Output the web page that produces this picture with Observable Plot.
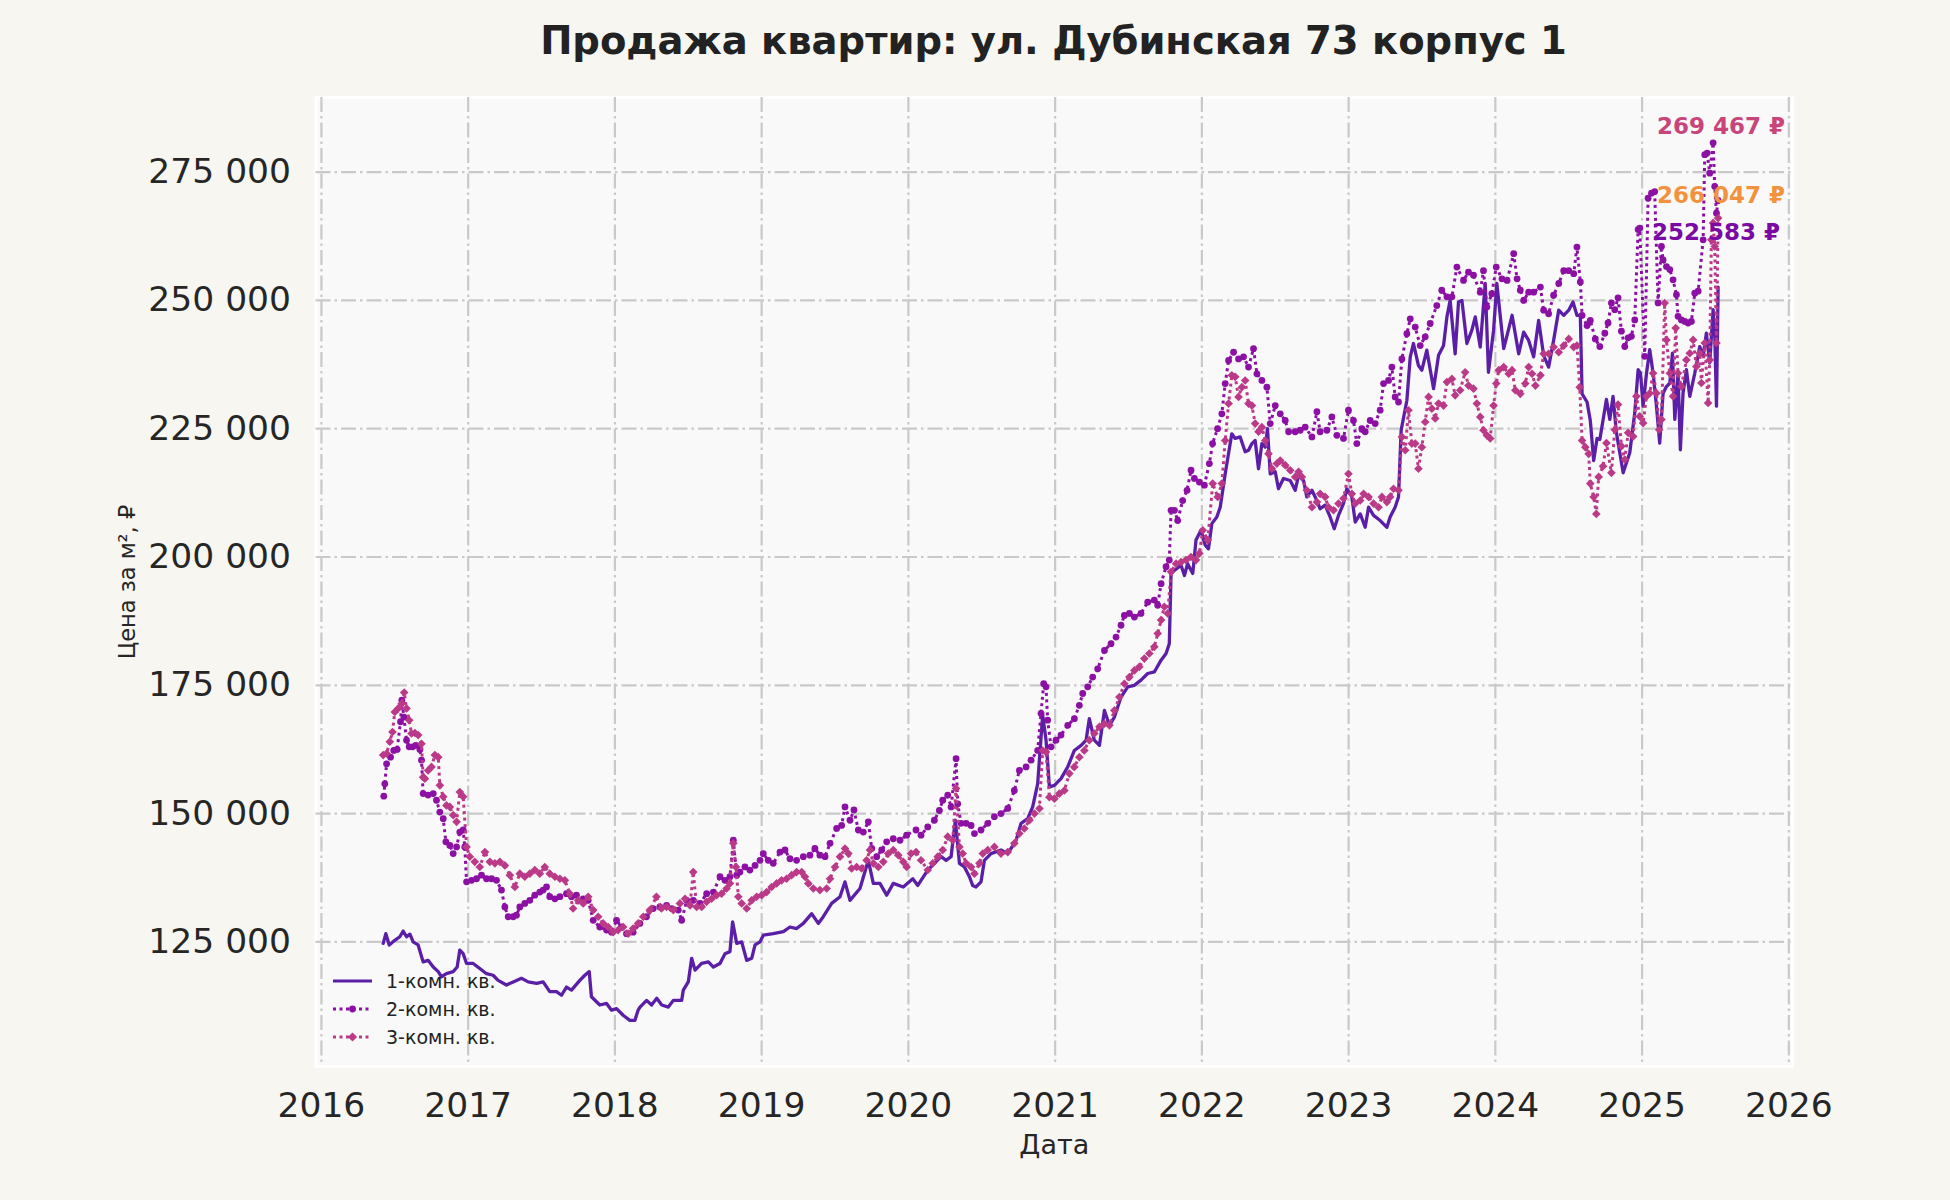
<!DOCTYPE html>
<html>
<head>
<meta charset="utf-8">
<script src="https://cdn.jsdelivr.net/npm/d3@7"></script>
<script src="https://cdn.jsdelivr.net/npm/@observablehq/plot@0.6"></script>
<style>
  html, body { margin: 0; padding: 0; background: #f7f6f1; }
  #wrap { position: relative; width: 1950px; height: 1200px; font-family: "DejaVu Sans", sans-serif; color: #222; }
  #head { position: relative; height: 82px; }
  #title { position: absolute; left: 315px; width: 1477px; top: 20px; text-align: center; font-weight: bold; font-size: 38.5px; line-height: 42px; color: #222; }
  #legend { position: absolute; left: 330px; top: 967px; font-size: 19px; color: #222; }
  .row { display: flex; align-items: center; height: 28px; }
  .row svg { width: 44px; height: 28px; margin-right: 12px; }
</style>
</head>
<body>
<div id="wrap">
  <div id="head"><div id="title">Продажа квартир: ул. Дубинская 73 корпус 1</div></div>
  <div id="chart"></div>
  <div id="legend"></div>
</div>
<script>
// ---- data (decimal year, price per m², ₽) ----
const seriesNames = ["1-комн. кв.", "2-комн. кв.", "3-комн. кв."];
const seriesColors = ["#5a1fa6", "#8c10a4", "#bb3a88"];
const xTicks = [2016, 2017, 2018, 2019, 2020, 2021, 2022, 2023, 2024, 2025, 2026];
const yTicks = [125000, 150000, 175000, 200000, 225000, 250000, 275000];

const years1 = [2016.421,2016.439,2016.462,2016.500,2016.534,2016.557,2016.580,2016.603,2016.625,2016.659,2016.693,2016.727,2016.762,2016.796,2016.818,2016.852,2016.898,2016.925,2016.943,2016.966,2016.989,2017.034,2017.079,2017.125,2017.170,2017.204,2017.261,2017.307,2017.363,2017.409,2017.466,2017.511,2017.556,2017.602,2017.636,2017.670,2017.704,2017.761,2017.795,2017.825,2017.840,2017.897,2017.943,2017.977,2018.011,2018.056,2018.102,2018.136,2018.158,2018.171,2018.216,2018.250,2018.285,2018.319,2018.364,2018.398,2018.455,2018.466,2018.500,2018.523,2018.546,2018.591,2018.637,2018.671,2018.716,2018.750,2018.784,2018.802,2018.830,2018.864,2018.898,2018.932,2018.955,2018.989,2019.011,2019.079,2019.148,2019.193,2019.238,2019.284,2019.341,2019.386,2019.420,2019.477,2019.534,2019.568,2019.602,2019.670,2019.727,2019.761,2019.806,2019.852,2019.897,2019.965,2020.030,2020.064,2020.132,2020.177,2020.223,2020.257,2020.291,2020.320,2020.348,2020.382,2020.416,2020.438,2020.461,2020.495,2020.518,2020.563,2020.631,2020.677,2020.734,2020.768,2020.813,2020.847,2020.881,2020.915,2020.938,2020.961,2020.995,2021.040,2021.086,2021.131,2021.177,2021.211,2021.233,2021.267,2021.302,2021.336,2021.370,2021.404,2021.449,2021.495,2021.540,2021.585,2021.631,2021.676,2021.722,2021.756,2021.778,2021.790,2021.813,2021.858,2021.881,2021.903,2021.938,2021.960,2021.994,2022.023,2022.045,2022.068,2022.102,2022.125,2022.159,2022.204,2022.227,2022.261,2022.295,2022.318,2022.341,2022.363,2022.386,2022.409,2022.432,2022.447,2022.466,2022.500,2022.522,2022.556,2022.602,2022.636,2022.659,2022.693,2022.715,2022.750,2022.772,2022.806,2022.840,2022.874,2022.902,2022.931,2022.965,2022.988,2023.022,2023.045,2023.079,2023.113,2023.136,2023.170,2023.215,2023.261,2023.283,2023.317,2023.340,2023.358,2023.397,2023.420,2023.442,2023.476,2023.499,2023.533,2023.579,2023.613,2023.647,2023.670,2023.692,2023.726,2023.749,2023.772,2023.806,2023.840,2023.863,2023.897,2023.931,2023.953,2023.988,2024.010,2024.057,2024.114,2024.159,2024.193,2024.227,2024.261,2024.295,2024.329,2024.363,2024.397,2024.432,2024.466,2024.500,2024.529,2024.556,2024.579,2024.591,2024.625,2024.647,2024.670,2024.693,2024.712,2024.757,2024.780,2024.802,2024.825,2024.871,2024.916,2024.950,2024.973,2024.989,2025.007,2025.030,2025.052,2025.075,2025.098,2025.120,2025.143,2025.166,2025.189,2025.207,2025.223,2025.245,2025.261,2025.279,2025.302,2025.325,2025.359,2025.393,2025.416,2025.438,2025.461,2025.484,2025.495,2025.507,2025.518];
const values1 = [124700,126600,124400,125300,126000,127100,126000,126500,125000,124400,121100,121400,120100,119200,118200,118800,119200,120100,123400,122700,120800,120800,119800,118800,118500,117500,116600,117200,117900,117200,116900,117200,115300,115300,114600,116200,115600,117500,118500,119200,114300,112700,113000,111700,112000,110700,109700,109700,111700,112300,113600,112700,114000,112700,112300,113600,113600,115600,117200,121800,119500,120800,121100,120100,120800,122700,123100,128900,124700,125000,121400,121800,124400,125000,126300,126600,127000,127900,127600,128600,130500,128600,129900,132500,133800,136700,133100,135400,140900,136400,136400,134100,136400,135700,137300,136000,139000,140300,141600,140900,141600,148700,140300,139600,137700,136000,135700,136700,140900,142200,142900,142200,144800,148100,149000,151300,155800,169200,164300,155200,155500,156800,159100,162300,163300,164300,168500,164300,163300,170100,167200,168800,172700,174700,175000,176000,177300,177600,179900,181200,183100,196800,197400,198400,196400,198700,196800,203300,205200,202300,201600,206500,207800,209700,216200,224000,223100,223400,220500,220800,222100,222700,217200,222100,221400,225000,216200,216600,213300,215300,214900,213000,215900,214900,211700,213000,211700,209400,210100,207800,205500,208100,210400,213300,211700,206800,208400,205800,209700,208100,207100,205800,207800,209700,211700,224700,230500,239000,241600,237300,236400,240300,232800,239300,241200,246800,250000,239600,249700,250000,241600,244200,246800,240900,253300,236000,244200,253300,240600,247100,239600,243800,242200,239000,246100,239300,237000,242200,248100,247100,248100,249700,247100,247100,231800,230200,226600,218800,223100,222900,230700,226800,231300,224200,216400,220300,228100,236500,235800,229400,235800,240400,235800,229400,222200,231900,233200,233900,239700,226800,235800,220900,231900,236500,231300,235800,241000,239100,243600,237800,248200,243600,229400,252583];

const years2 = [2016.425,2016.432,2016.444,2016.471,2016.493,2016.516,2016.539,2016.548,2016.562,2016.580,2016.598,2016.621,2016.643,2016.671,2016.682,2016.693,2016.727,2016.762,2016.784,2016.807,2016.830,2016.848,2016.875,2016.898,2016.921,2016.943,2016.966,2016.977,2016.989,2017.023,2017.057,2017.091,2017.125,2017.159,2017.193,2017.227,2017.250,2017.273,2017.307,2017.329,2017.352,2017.386,2017.420,2017.454,2017.488,2017.511,2017.534,2017.556,2017.591,2017.625,2017.670,2017.704,2017.738,2017.784,2017.818,2017.852,2017.897,2017.943,2017.977,2018.011,2018.045,2018.079,2018.124,2018.170,2018.215,2018.261,2018.306,2018.352,2018.387,2018.432,2018.455,2018.489,2018.534,2018.580,2018.625,2018.671,2018.716,2018.750,2018.784,2018.807,2018.830,2018.852,2018.886,2018.920,2018.955,2018.989,2019.011,2019.045,2019.079,2019.125,2019.159,2019.193,2019.238,2019.284,2019.329,2019.363,2019.397,2019.432,2019.466,2019.511,2019.545,2019.568,2019.602,2019.629,2019.659,2019.693,2019.727,2019.750,2019.784,2019.818,2019.852,2019.897,2019.943,2019.988,2020.052,2020.086,2020.132,2020.177,2020.211,2020.234,2020.268,2020.291,2020.325,2020.336,2020.359,2020.393,2020.427,2020.450,2020.495,2020.541,2020.586,2020.631,2020.677,2020.722,2020.756,2020.802,2020.836,2020.881,2020.904,2020.922,2020.938,2020.949,2020.972,2021.006,2021.040,2021.086,2021.131,2021.165,2021.188,2021.222,2021.256,2021.290,2021.336,2021.381,2021.415,2021.449,2021.472,2021.506,2021.540,2021.585,2021.631,2021.676,2021.699,2021.722,2021.756,2021.778,2021.790,2021.813,2021.835,2021.869,2021.899,2021.926,2021.949,2021.983,2022.017,2022.051,2022.073,2022.107,2022.136,2022.159,2022.182,2022.216,2022.250,2022.284,2022.318,2022.352,2022.375,2022.409,2022.443,2022.466,2022.500,2022.534,2022.568,2022.591,2022.636,2022.670,2022.704,2022.750,2022.784,2022.806,2022.852,2022.886,2022.920,2022.965,2022.999,2023.033,2023.056,2023.090,2023.113,2023.147,2023.181,2023.215,2023.238,2023.272,2023.295,2023.317,2023.340,2023.363,2023.397,2023.420,2023.454,2023.488,2023.522,2023.556,2023.601,2023.635,2023.670,2023.704,2023.738,2023.783,2023.817,2023.851,2023.897,2023.919,2023.942,2023.976,2024.006,2024.045,2024.080,2024.125,2024.148,2024.170,2024.193,2024.227,2024.261,2024.307,2024.329,2024.363,2024.397,2024.432,2024.466,2024.500,2024.534,2024.556,2024.579,2024.591,2024.625,2024.647,2024.681,2024.712,2024.746,2024.768,2024.791,2024.814,2024.836,2024.859,2024.882,2024.905,2024.927,2024.950,2024.973,2024.984,2025.018,2025.041,2025.064,2025.086,2025.109,2025.132,2025.143,2025.166,2025.189,2025.211,2025.234,2025.245,2025.268,2025.291,2025.313,2025.336,2025.359,2025.382,2025.416,2025.427,2025.443,2025.461,2025.484,2025.495,2025.507,2025.518];
const values2 = [153400,155800,159700,161000,162300,162500,167900,172100,168800,164300,163000,163000,163300,162500,160400,153900,153600,153900,152600,150300,149000,144500,143800,142200,143500,146400,146800,143500,136700,137000,137300,138000,137300,137300,137000,135100,131800,129900,129900,130200,131800,132500,133100,134100,134700,135100,135700,133800,133400,133800,134400,133800,134100,133400,133100,129200,127900,127300,126900,129200,127900,126600,126900,128600,129900,131500,131800,132100,131500,131200,129200,133100,133100,132500,134400,134700,137700,137000,137700,144800,138000,138600,139600,139000,139900,140900,142200,140900,140300,142500,142900,141200,140900,141600,141900,143200,141900,141600,144200,147100,147700,151300,148700,150700,146800,146400,148400,143200,141600,142900,144500,145100,144800,145800,146800,145800,147400,148700,150600,152600,153600,151300,160700,151900,148100,148100,147700,146100,146800,148100,149400,150000,151000,154500,158400,159100,160400,162300,169500,175300,174700,168200,163000,164300,165300,167200,168500,171100,173400,174700,176600,178200,181800,183100,184400,186700,188600,189000,188300,189000,191200,191600,190600,194800,198100,199400,209100,209100,207100,211000,213000,216900,215300,214600,214000,218200,222100,225000,227900,233800,238300,239900,238600,239000,237000,240600,235700,234400,233100,226000,229500,227900,226600,224400,224400,224700,225300,223400,228300,224400,224700,227300,223700,223100,228600,226600,222100,225000,224400,226600,226000,228600,233800,234400,237000,231200,230200,238600,243500,246400,244800,241200,242900,245500,249000,252000,250700,250700,256500,253900,255500,254900,251600,255800,248700,251300,256500,254200,253900,259100,254200,252000,250000,251600,251600,252600,248100,247400,251000,253300,255800,255800,255200,260400,253600,247100,245100,246100,242500,241000,243600,245600,249500,248200,250500,244000,241000,242700,243000,246200,263800,264100,239100,269900,270900,271200,249500,260500,257900,256600,256000,254000,251100,246900,246200,245900,245600,245900,251400,251800,261800,278400,278700,274800,280700,272200,267000,269467];

const years3 = [2016.421,2016.444,2016.466,2016.484,2016.500,2016.523,2016.546,2016.564,2016.580,2016.598,2016.614,2016.637,2016.659,2016.682,2016.693,2016.705,2016.727,2016.750,2016.773,2016.796,2016.807,2016.830,2016.852,2016.875,2016.898,2016.921,2016.943,2016.966,2016.989,2017.011,2017.045,2017.079,2017.114,2017.148,2017.182,2017.216,2017.250,2017.284,2017.318,2017.352,2017.386,2017.420,2017.454,2017.488,2017.522,2017.556,2017.591,2017.625,2017.659,2017.693,2017.715,2017.750,2017.784,2017.818,2017.852,2017.886,2017.920,2017.954,2017.988,2018.022,2018.056,2018.090,2018.124,2018.158,2018.193,2018.238,2018.283,2018.317,2018.352,2018.398,2018.443,2018.478,2018.512,2018.534,2018.557,2018.591,2018.625,2018.659,2018.693,2018.727,2018.761,2018.784,2018.807,2018.825,2018.841,2018.864,2018.898,2018.932,2018.966,2019.000,2019.034,2019.068,2019.102,2019.136,2019.170,2019.204,2019.238,2019.273,2019.295,2019.318,2019.352,2019.397,2019.443,2019.466,2019.500,2019.534,2019.568,2019.591,2019.613,2019.647,2019.681,2019.715,2019.738,2019.761,2019.795,2019.829,2019.863,2019.897,2019.931,2019.965,2019.988,2020.018,2020.052,2020.086,2020.132,2020.166,2020.200,2020.234,2020.268,2020.302,2020.325,2020.348,2020.370,2020.393,2020.427,2020.450,2020.484,2020.507,2020.541,2020.586,2020.631,2020.677,2020.722,2020.756,2020.790,2020.825,2020.859,2020.893,2020.915,2020.938,2020.961,2020.995,2021.029,2021.063,2021.097,2021.131,2021.165,2021.199,2021.233,2021.267,2021.302,2021.336,2021.370,2021.404,2021.438,2021.472,2021.506,2021.540,2021.574,2021.608,2021.642,2021.676,2021.699,2021.722,2021.744,2021.767,2021.790,2021.824,2021.858,2021.892,2021.926,2021.960,2021.983,2022.006,2022.040,2022.074,2022.108,2022.136,2022.159,2022.182,2022.204,2022.227,2022.250,2022.273,2022.295,2022.318,2022.341,2022.363,2022.386,2022.409,2022.432,2022.454,2022.477,2022.511,2022.534,2022.568,2022.602,2022.636,2022.659,2022.681,2022.715,2022.750,2022.784,2022.806,2022.840,2022.863,2022.897,2022.931,2022.965,2022.999,2023.022,2023.045,2023.079,2023.102,2023.136,2023.170,2023.204,2023.227,2023.261,2023.283,2023.306,2023.340,2023.363,2023.386,2023.408,2023.431,2023.454,2023.476,2023.499,2023.522,2023.545,2023.567,2023.590,2023.613,2023.647,2023.670,2023.704,2023.726,2023.760,2023.794,2023.817,2023.851,2023.874,2023.897,2023.919,2023.942,2023.965,2023.988,2024.006,2024.023,2024.057,2024.091,2024.114,2024.136,2024.170,2024.204,2024.227,2024.250,2024.273,2024.307,2024.329,2024.363,2024.397,2024.432,2024.466,2024.500,2024.534,2024.556,2024.575,2024.591,2024.613,2024.636,2024.647,2024.670,2024.688,2024.704,2024.734,2024.757,2024.791,2024.814,2024.836,2024.859,2024.882,2024.905,2024.939,2024.961,2024.984,2025.007,2025.030,2025.052,2025.075,2025.098,2025.116,2025.132,2025.154,2025.166,2025.189,2025.211,2025.229,2025.245,2025.268,2025.302,2025.325,2025.348,2025.370,2025.393,2025.404,2025.427,2025.450,2025.461,2025.472,2025.484,2025.495,2025.507,2025.518];
const values3 = [161400,161700,164000,165900,169800,170500,171400,173600,170500,168200,165600,165700,165300,163600,157100,156800,158400,159100,161400,161000,155500,153300,151600,151300,149700,148400,154200,153300,143500,141600,140600,139600,142500,140600,140300,140600,139900,138000,135700,138300,137700,138300,139000,138300,139600,138300,137700,137300,137000,134400,131500,133100,132500,133800,131200,129900,128600,127900,126900,127300,127900,126600,127600,128600,129900,131200,133800,131500,131800,131200,132500,133400,132100,138600,131800,131800,132800,133400,134100,134400,135400,136400,144200,139600,133800,132500,131500,133100,133800,134100,134700,135700,136400,137000,137300,138000,138600,138600,137700,136400,135400,135100,135400,137300,139600,141600,143200,142200,139300,139600,139300,140900,142900,140300,139600,140600,142200,142900,141900,140600,139600,142200,142500,140900,139000,140300,141600,142900,145500,144800,154900,143500,142200,140300,139600,138300,140300,142200,142900,143500,142200,142500,144200,146100,147100,148700,150000,151000,162300,162000,153200,152900,153900,154500,157800,159100,161000,162300,164300,165600,166900,167500,167200,170100,172700,175300,176600,177900,178600,180200,181200,182500,185100,187700,190300,189000,197100,198700,199000,199400,200000,199400,200700,205200,203300,214300,211700,214300,222700,229900,235400,235100,231200,233100,234400,229900,229500,226000,224400,225300,222700,220100,217200,218200,218800,217900,216900,215600,216600,215600,213000,209700,210700,212300,211700,209700,209100,210400,211400,216200,212300,210400,211000,212300,211700,210400,209700,211700,210700,211700,213300,213000,223400,220800,228600,222100,222100,217200,221400,226300,231200,228900,227000,229900,229500,234100,234700,231500,232500,236000,233400,232800,229900,227300,224700,223700,223100,229500,233800,236400,237000,235700,236400,232500,231800,233800,237000,235700,233400,235400,239600,239600,240900,239900,241200,242500,240900,241200,233100,222700,221400,220100,214300,211700,208400,215600,217700,222200,216400,224800,229700,221600,219000,224200,223500,231300,227400,226100,231300,231900,235800,231900,224800,226800,249500,242300,235800,231300,244600,235800,233200,238400,239700,242300,237100,239700,233900,241700,230000,238400,261800,265100,260500,241700,266047];

// ---- build tables ----
const toRows = (ys, vs) => ys.map((y, i) => ({year: y, value: vs[i]}));
const s1 = toRows(years1, values1);
const s2 = toRows(years2, values2);
const s3 = toRows(years3, values3);
const last1 = s1.slice(-1), last2 = s2.slice(-1), last3 = s3.slice(-1);

const fmtNum = d => d3.format(",")(d).replace(/,/g, " ");
const fmtRub = d => fmtNum(d) + " ₽";

const grid = {stroke: "#c9c9c9", strokeWidth: 2.2, strokeDasharray: "15,4,2.5,4"};
const dotted = {strokeWidth: 3, strokeDasharray: "3,3.5", strokeLinecap: "butt", strokeLinejoin: "round"};

const chart = Plot.plot({
  width: 1950,
  height: 1118,
  marginTop: 15,
  marginBottom: 134,
  marginLeft: 315.5,
  marginRight: 158,
  style: {background: "transparent", fontFamily: "DejaVu Sans, sans-serif", fontSize: "34.5px", color: "#262626", overflow: "visible"},
  x: {domain: [2015.963, 2026.025], ticks: xTicks, tickFormat: d => String(d), tickSize: 0, tickPadding: 26, label: null},
  y: {domain: [100717, 289537], ticks: yTicks, tickFormat: fmtNum, tickSize: 0, tickPadding: 25, label: null},
  marks: [
    Plot.frame({fill: "#f9f9f9", stroke: "#ffffff", strokeWidth: 3}),
    Plot.ruleX(xTicks, grid),
    Plot.ruleY(yTicks, grid),
    Plot.line(s1, {x: "year", y: "value", stroke: seriesColors[0], strokeWidth: 3.3, strokeLinejoin: "round"}),
    Plot.line(s2, {x: "year", y: "value", stroke: seriesColors[1], ...dotted}),
    Plot.dot(s2, {x: "year", y: "value", fill: seriesColors[1], r: 3.4, symbol: "circle"}),
    Plot.line(s3, {x: "year", y: "value", stroke: seriesColors[2], ...dotted}),
    Plot.dot(s3, {x: "year", y: "value", fill: seriesColors[2], r: 3.9, symbol: "diamond2"}),
    Plot.text(last2, {x: "year", y: "value", text: d => fmtRub(d.value), textAnchor: "end", dx: 67, dy: -74, fill: "#c8457a", fontWeight: "bold", fontSize: 23}),
    Plot.text(last3, {x: "year", y: "value", text: d => fmtRub(d.value), textAnchor: "end", dx: 67, dy: -22, fill: "#f3923e", fontWeight: "bold", fontSize: 23}),
    Plot.text(last1, {x: "year", y: "value", text: d => fmtRub(d.value), textAnchor: "end", dx: 62, dy: -55, fill: "#7a0aa2", fontWeight: "bold", fontSize: 23}),
    Plot.text(["Дата"], {frameAnchor: "bottom", text: d => d, textAnchor: "middle", dy: 87, fontSize: 27, fill: "#262626"}),
    Plot.text(["Цена за м², ₽"], {frameAnchor: "left", text: d => d, textAnchor: "middle", dx: -188, rotate: -90, fontSize: 22.5, fill: "#262626"})
  ]
});
document.getElementById("chart").appendChild(chart);

// ---- legend ----
const legend = document.getElementById("legend");
const swatch = (i) => {
  const c = seriesColors[i];
  if (i === 0) return `<svg viewBox="0 0 44 28"><line x1="3" y1="14" x2="42" y2="14" stroke="${c}" stroke-width="3.2"/></svg>`;
  const marker = i === 1
    ? `<circle cx="22.5" cy="14" r="3.4" fill="${c}"/>`
    : `<path d="M22.5 9.4 L27.1 14 L22.5 18.6 L17.9 14 Z" fill="${c}"/>`;
  return `<svg viewBox="0 0 44 28"><line x1="3" y1="14" x2="42" y2="14" stroke="${c}" stroke-width="3" stroke-dasharray="3,3.5"/>${marker}</svg>`;
};
seriesNames.forEach((name, i) => {
  const row = document.createElement("div");
  row.className = "row";
  row.innerHTML = swatch(i) + `<span>${name}</span>`;
  legend.appendChild(row);
});
</script>
</body>
</html>
